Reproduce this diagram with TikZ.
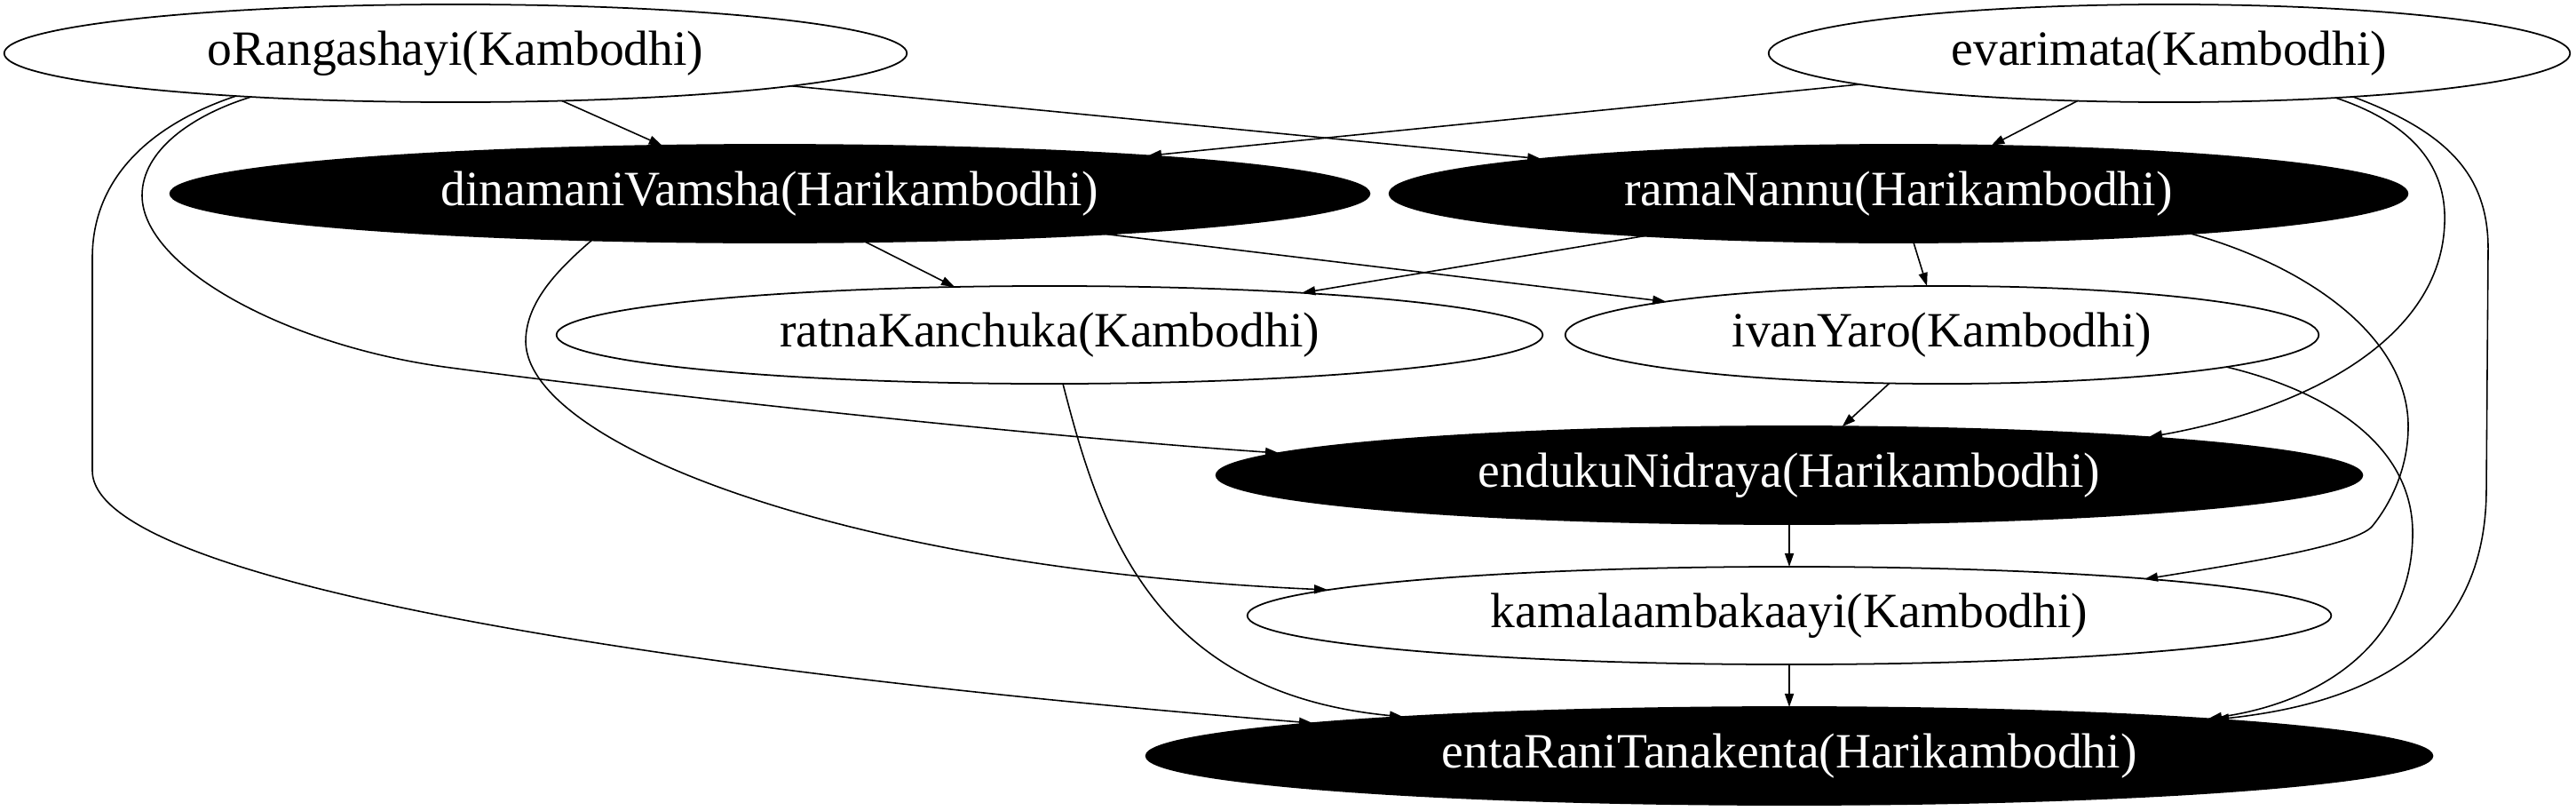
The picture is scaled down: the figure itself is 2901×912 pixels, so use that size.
\documentclass[tikz,border=0pt]{standalone}
\usepackage{fontspec}
\setmainfont{Liberation Serif}
\usepackage{tikz}
\usetikzlibrary{arrows.meta,shapes.geometric,calc}
\tikzset{>={Triangle[length=0.15cm,width=0.1cm]},
  rg/.style={ellipse,draw,line width=0.5pt,inner sep=0pt,outer sep=0pt,minimum height=1.1cm,font=\fontsize{15.8}{19}\selectfont},
  hrg/.style={rg,fill=black,text=white},
  dep/.style={->,line width=0.45pt}}

\begin{document}
\begin{tikzpicture}[x=0.01cm,y=-0.01cm]
\useasboundingbox (0,0) rectangle (2901,912);

% ===== ragas, one row per rank =====
\node[rg,minimum width=10.16cm] (orang) at (513,60) {oRangashayi(Kambodhi)};
\node[rg,minimum width=9.02cm] (evari) at (2443,60) {evarimata(Kambodhi)};
\node[hrg,minimum width=13.50cm] (dina) at (867,218) {dinamaniVamsha(Harikambodhi)};
\node[hrg,minimum width=11.46cm] (rama) at (2138,218) {ramaNannu(Harikambodhi)};
\node[rg,minimum width=11.10cm] (ratna) at (1182,377) {ratnaKanchuka(Kambodhi)};
\node[rg,minimum width=8.48cm] (ivan) at (2187,377) {ivanYaro(Kambodhi)};
\node[hrg,minimum width=12.90cm] (endu) at (2015,535) {endukuNidraya(Harikambodhi)};
\node[rg,minimum width=12.20cm] (kamal) at (2015,693) {kamalaambakaayi(Kambodhi)};
\node[hrg,minimum width=14.48cm] (enta) at (2015,851) {entaRaniTanakenta(Harikambodhi)};

% ===== straight dependencies =====
\draw[dep] (orang) -- (dina);
\draw[dep] (orang) -- (rama);
\draw[dep] (evari) -- (dina);
\draw[dep] (evari) -- (rama);
\draw[dep] (dina) -- (ratna);
\draw[dep] (dina) -- (ivan);
\draw[dep] (rama) -- (ratna);
\draw[dep] (rama) -- (ivan);
\draw[dep] (ivan) -- (endu);
\draw[dep] (endu) -- (kamal);
\draw[dep] (kamal) -- (enta);

% ===== curved dependencies (ends given as offsets on the ellipse rims) =====
\draw[dep] ($(orang)+(-230,49)$) .. controls (215,130) and (160,170) .. (160,220)
   .. controls (160,300) and (320,388) .. (500,413)
   .. controls (700,440) and (1150,490) .. ($(endu)+(-575,-25)$);
\draw[dep] ($(orang)+(-247,48)$) .. controls (170,140) and (104,200) .. (104,290)
   -- (104,530)
   .. controls (104,660) and (800,760) .. ($(enta)+(-537,-37)$);
\draw[dep] ($(evari)+(187,50)$) .. controls (2720,140) and (2755,190) .. (2753,250)
   .. controls (2750,380) and (2600,460) .. ($(endu)+(405,-43)$);
\draw[dep] ($(evari)+(207,49)$) .. controls (2760,150) and (2802,200) .. (2802,280)
   -- (2800,550)
   .. controls (2800,720) and (2680,790) .. ($(enta)+(480,-41)$);
\draw[dep] ($(dina)+(-200,52)$) .. controls (620,310) and (592,345) .. (592,385)
   .. controls (595,500) and (950,640) .. ($(kamal)+(-520,-29)$);
\draw[dep] ($(rama)+(329,45)$) .. controls (2600,300) and (2712,380) .. (2712,480)
   .. controls (2712,530) and (2690,570) .. (2671,593)
   .. controls (2650,615) and (2520,635) .. ($(kamal)+(400,-41)$);
\draw[dep] ($(ratna)+(15,55)$) .. controls (1240,600) and (1300,780) .. ($(enta)+(-435,-44)$);
\draw[dep] ($(ivan)+(320,36)$) .. controls (2620,440) and (2717,500) .. (2717,600)
   .. controls (2717,720) and (2620,790) .. ($(enta)+(472,-42)$);

\end{tikzpicture}
\end{document}
